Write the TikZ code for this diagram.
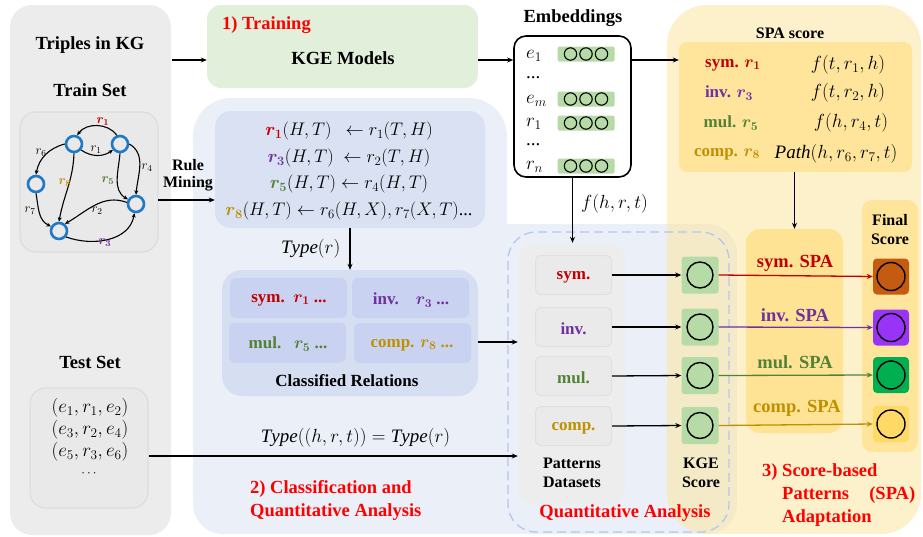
\documentclass[tikz,border=0pt]{standalone}
\usepackage{fix-cm}
\usepackage{amsmath}
\usepackage{bm}
\usepackage{fontspec}
\setmainfont{Liberation Serif}
\usetikzlibrary{arrows.meta}
\definecolor{symc}{HTML}{C00000}
\definecolor{invc}{HTML}{7030A0}
\definecolor{mulc}{HTML}{548235}
\definecolor{compc}{HTML}{BF9000}
\definecolor{redt}{HTML}{FF0000}
\definecolor{graybg}{HTML}{ECECEC}
\definecolor{gboxc}{HTML}{E9E9E9}
\definecolor{gboxd}{HTML}{DDDDDD}
\definecolor{bluebg}{HTML}{EAEFF8}
\definecolor{rulec}{HTML}{D9E1F2}
\definecolor{classc}{HTML}{D6DEF1}
\definecolor{cellc}{HTML}{C9D3F1}
\definecolor{greenbg}{HTML}{E2EFDA}
\definecolor{yelbg}{RGB}{252,232,168}
\definecolor{spac}{HTML}{FFE59C}
\definecolor{spacol}{HTML}{FFE394}
\definecolor{pboxc}{HTML}{EAEAEA}
\definecolor{pboxd}{HTML}{E0E0E0}
\definecolor{pdc}{HTML}{EDEDED}
\definecolor{kgeg}{HTML}{B6DBA6}
\definecolor{dashc}{HTML}{B4C7EE}
\definecolor{kgblue}{HTML}{1F78C8}
\definecolor{fbrown}{HTML}{C55A11}
\definecolor{fpurple}{HTML}{9933F5}
\definecolor{fgreen}{HTML}{00B050}
\definecolor{fyellow}{HTML}{FFD966}
\begin{document}
\begin{tikzpicture}[x=1pt,y=1pt,
  ttl/.style={font=\fontsize{18.5}{20}\selectfont\bfseries, inner sep=0},
  midt/.style={font=\fontsize{17}{19}\selectfont\bfseries, inner sep=0},
  smt/.style={font=\fontsize{16}{18}\selectfont\bfseries, inner sep=0},
  mth/.style={font=\fontsize{19}{22}\selectfont, inner sep=0},
  rth/.style={font=\fontsize{18.2}{21}\selectfont, inner sep=0},
  glab/.style={font=\fontsize{13}{14}\selectfont, inner sep=0},
  arr/.style={-{Stealth[length=6pt,width=5pt]}, line width=1.3pt},
  garr/.style={-{Stealth[length=4.5pt,width=4pt]}, line width=1.1pt},
  gnode/.style={circle, draw=kgblue, line width=2.6pt, minimum size=16pt, inner sep=0},
  embar/.style={fill=kgeg, rounded corners=1.5pt, minimum width=57pt, minimum height=15pt, inner sep=0},
  pbox/.style={fill=pboxc, draw=pboxd, line width=1pt, rounded corners=5pt, minimum width=76pt, minimum height=39pt, inner sep=0},
  kbox/.style={fill=kgeg, rounded corners=3pt, minimum size=37pt, inner sep=0},
  fbox/.style={rounded corners=4pt, minimum size=36pt, inner sep=0},
  cell/.style={fill=cellc, rounded corners=6pt, minimum width=117pt, minimum height=40pt, inner sep=0},
  plain/.style={inner sep=0}
]
\useasboundingbox (0,0) rectangle (923,-536);
% ---------- backgrounds
\fill[graybg, rounded corners=22pt] (10,-5) rectangle (171,-535);
\fill[bluebg, rounded corners=38pt] (193,-98) rectangle (507,-300);
\fill[bluebg, rounded corners=30pt] (193,-224) rectangle (737,-534);
\fill[yelbg, fill opacity=0.6, rounded corners=40pt] (667,-5) rectangle (921,-534);

% ---------- left panel
\node[ttl] (triples) at (90,-45) {Triples in KG};
\node[ttl] (train) at (90,-90) {Train Set};
\node[fill=gboxc, draw=gboxd, line width=1.2pt, rounded corners=16pt, minimum width=138pt, minimum height=140pt, inner sep=0] (gbox) at (89,-182) {};
\node[gnode] (A) at (74,-144) {};
\node[gnode] (B) at (120,-144) {};
\node[gnode] (C) at (36,-184) {};
\node[gnode] (D) at (136,-204) {};
\node[gnode] (E) at (59,-231) {};
\draw[garr] (B.110) to[out=125,in=55] (A.70);
\draw[garr] (A.-40) to[out=-35,in=-145] (B.-140);
\draw[garr] (A.west) to[out=195,in=80] (C.north);
\draw[garr] (C.south) to[out=-80,in=155] (E.150);
\draw[garr] (A.south) to[out=-92,in=80] (E.north);
\draw[garr] (B.east) to[out=-30,in=85] (D.north);
\draw[garr] (B.south) to[out=-95,in=150] (D.150);
\draw[garr] (D.170) to[out=160,in=30] (E.50);
\draw[garr] (E.-40) to[out=-20,in=-100] (D.-100);
\node[glab, text=symc] (l1) at (103,-122) {$\bm{r_1}$};
\node[glab] (l1b) at (96,-150) {$r_1$};
\node[glab] (l6) at (41,-153) {$r_6$};
\node[glab] (l7) at (30,-211) {$r_7$};
\node[glab, text=compc] (l8) at (65,-183) {$\bm{r_8}$};
\node[glab, text=mulc] (l5) at (108,-181) {$\bm{r_5}$};
\node[glab] (l4) at (147,-168) {$r_4$};
\node[glab] (l2) at (97,-211) {$r_2$};
\node[glab, text=invc] (l3) at (105,-243) {$\bm{r_3}$};

\node[ttl] (test) at (90,-362) {Test Set};
\node[fill=gboxc, draw=gboxd, line width=1.2pt, rounded corners=16pt, minimum width=118pt, minimum height=120pt, inner sep=0] (tbox) at (89,-448) {};
\node[mth] (t1) at (90,-408) {$(e_1,r_1,e_2)$};
\node[mth] (t2) at (90,-430) {$(e_3,r_2,e_4)$};
\node[mth] (t3) at (90,-452) {$(e_5,r_3,e_6)$};
\node[glab] (t4) at (90,-474) {$\cdots$};

% ---------- training
\node[fill=greenbg, rounded corners=14pt, minimum width=271pt, minimum height=83pt, inner sep=0] (trainbox) at (342.5,-46.5) {};
\node[ttl, text=redt, anchor=west] (s1) at (222,-25) {1) Training};
\node[ttl] (kge) at (343,-58) {KGE Models};
\coordinate (ta) at (172,-60);
\draw[arr] (ta) -- (ta -| trainbox.west);

% ---------- embeddings
\node[ttl] (embt) at (573,-18) {Embeddings};
\node[draw, line width=1.6pt, rounded corners=12pt, fill=white, minimum width=117pt, minimum height=141pt, inner sep=0] (emb) at (572.5,-106.5) {};
\node[mth, anchor=west] (le1) at (526,-56) {$e_1$};
\node[mth, anchor=west] (ld1) at (526,-78) {...};
\node[mth, anchor=west] (lem) at (526,-101) {$e_m$};
\node[mth, anchor=west] (lr1) at (526,-124) {$r_1$};
\node[mth, anchor=west] (ld2) at (526,-145) {...};
\node[mth, anchor=west] (lrn) at (526,-167) {$r_n$};
\node[embar] (be1) at (586,-54) {};
\node[embar] (bem) at (586,-99) {};
\node[embar] (br1) at (586,-123) {};
\node[embar] (brn) at (586,-166) {};
\foreach \b in {be1,bem,br1,brn}{
  \foreach \dx in {-15.5,0,15.5}{
    \draw[line width=1.1pt] (\b.center) ++(\dx,0) circle (6.2);
  }
}
\coordinate (ka) at (479,-60);
\draw[arr] (trainbox.east |- ka) -- (ka -| emb.west);

% ---------- rules
\node[fill=rulec, rounded corners=16pt, minimum width=270pt, minimum height=117pt, inner sep=0] (rules) at (350,-169.5) {};
\node[rth] (rl1) at (349,-131) {${\color{symc}\bm{r_1}}(H,T)\ \ \leftarrow r_1(T,H)$};
\node[rth] (rl2) at (349,-158) {${\color{invc}\bm{r_3}}(H,T)\ \leftarrow r_2(T,H)$};
\node[rth] (rl3) at (349,-184) {${\color{mulc}\bm{r_5}}(H,T) \leftarrow r_4(H,T)$};
\node[rth] (rl4) at (349,-211) {${\color{compc}\bm{r_8}}(H,T) \leftarrow r_6(H,X),r_7(X,T)$...};
\node[smt, align=center] (rm) at (188,-175) {Rule\\[-1pt]Mining};
\coordinate (rma) at (158,-200);
\draw[arr] (rma) -- (rma -| rules.west);

% ---------- classified relations
\node[fill=classc, rounded corners=20pt, minimum width=256pt, minimum height=126pt, inner sep=0] (cls) at (350,-333) {};
\node[cell] (csym) at (288.5,-298) {};
\node[cell] (cinv) at (410.5,-298) {};
\node[cell] (cmul) at (287.5,-342.5) {};
\node[cell] (ccomp) at (412.5,-343) {};
\node[midt, text=symc] (tsym) at (289,-300) {sym.\ \ $\bm{r_1}$ ...};
\node[midt, text=invc] (tinv) at (411,-300) {inv.\quad $\bm{r_3}$ ...};
\node[midt, text=mulc] (tmul) at (288,-344) {mul.\ \ \ $\bm{r_5}$ ...};
\node[midt, text=compc] (tcomp) at (412,-345) {comp. $\bm{r_8}$ ...};
\node[midt] (clst) at (347,-381) {Classified Relations};
\draw[arr] (rules.south) -- node[mth, left=9pt] (typer) {$\mathit{Type}(r)$} (cls.north);

% ---------- section 2 text
\node[ttl, text=redt, anchor=west] (s2a) at (250,-489) {2) Classification and};
\node[ttl, text=redt, anchor=west] (s2b) at (250,-512) {Quantitative Analysis};

% ---------- yellow part
\node[smt] (spat) at (790,-33) {SPA score};
\node[fill=spac, rounded corners=8pt, minimum width=233pt, minimum height=130pt, inner sep=0] (spa) at (795.5,-107) {};
\node[midt, text=symc] (ss1) at (733,-65) {sym. $\bm{r_1}$};
\node[midt, text=invc] (ss2) at (729,-93) {inv. $\bm{r_3}$};
\node[midt, text=mulc] (ss3) at (731,-123) {mul. $\bm{r_5}$};
\node[midt, text=compc] (ss4) at (727,-154) {comp. $\bm{r_8}$};
\node[mth] (sf1) at (848,-65) {$f(t,r_1,h)$};
\node[mth] (sf2) at (848,-93) {$f(t,r_2,h)$};
\node[mth] (sf3) at (851,-123) {$f(h,r_4,t)$};
\node[mth] (sf4) at (836,-154) {$\mathit{Path}(h,r_6,r_7,t)$};
\coordinate (ea) at (632,-60);
\draw[arr] (emb.east |- ea) -- (ea -| spa.west);

\node[fill=spacol, rounded corners=14pt, minimum width=97pt, minimum height=204pt, inner sep=0] (spacolumn) at (794.5,-331) {};
\draw[arr] (spacolumn.north |- spa.south) -- (spacolumn.north);
\node[fill=spac, rounded corners=10pt, minimum width=56pt, minimum height=252pt, inner sep=0] (fcol) at (890,-326) {};
\node[smt, align=center] (fst) at (890,-230) {Final\\[1pt]Score};

% ---------- quantitative analysis
\node[draw=dashc, line width=1.3pt, dash pattern=on 9pt off 5pt, rounded corners=28pt, minimum width=221pt, minimum height=300pt, inner sep=0] (qa) at (618.5,-382) {};
\node[fill=pdc, rounded corners=18pt, minimum width=107pt, minimum height=262pt, inner sep=0] (pd) at (571.5,-374) {};
\node[pbox] (psym) at (573.5,-275) {};
\node[pbox] (pinv) at (573.5,-327) {};
\node[pbox] (pmul) at (573.5,-376) {};
\node[pbox] (pcomp) at (573.5,-426) {};
\node[midt, text=symc] (psymt) at (573.5,-277) {sym.};
\node[midt, text=invc] (pinvt) at (573.5,-329) {inv.};
\node[midt, text=mulc] (pmult) at (573.5,-378) {mul.};
\node[midt, text=compc] (pcompt) at (573.5,-428) {comp.};
\node[smt, align=center] (pdt) at (572,-473) {Patterns\\[1pt]Datasets};
\node[smt, align=center] (kst) at (701,-473) {KGE\\[1pt]Score};
\node[ttl, text=redt] (qat) at (625,-513) {Quantitative Analysis};

\draw[arr] (emb.south) -- (emb.south |- pd.north) node[mth, pos=0.4, right=8pt] (fhrt) {$f(h,r,t)$};
\coordinate (ca) at (478,-342);
\draw[arr] (cls.east |- ca) -- (ca -| pd.west);
\coordinate (tsa) at (149,-456);
\draw[arr] (tsa) -- (tsa -| pd.west) node[mth, pos=0.56, above=8pt] (typet) {$\mathit{Type}((h,r,t)) = \mathit{Type}(r)$};

\node[kbox] (ksym) at (700,-275) {};
\node[kbox] (kinv) at (700,-327) {};
\node[kbox] (kmul) at (700,-375.5) {};
\node[kbox] (kcomp) at (700,-425.5) {};
\node[fbox, fill=fbrown] (fsym) at (891,-276.5) {};
\node[fbox, fill=fpurple] (finv) at (891,-327.5) {};
\node[fbox, fill=fgreen] (fmul) at (891,-375) {};
\node[fbox, fill=fyellow] (fcomp) at (891,-424) {};
\foreach \k in {ksym,kinv,kmul,kcomp}{
  \draw[line width=1.4pt] (\k.center) circle (13);
}
\foreach \k in {fsym,finv,fmul,fcomp}{
  \draw[line width=1.4pt] (\k.center) circle (14);
}
\foreach \p/\k in {psym/ksym,pinv/kinv,pmul/kmul,pcomp/kcomp}{
  \draw[arr] (\p.east) -- (\k.west);
}
\draw[arr, symc] (ksym.east) -- (fsym.west);
\draw[arr, invc] (kinv.east) -- (finv.west);
\draw[arr, mulc] (kmul.east) -- (fmul.west);
\draw[arr, compc] (kcomp.east) -- (fcomp.west);
\node[ttl, text=symc] (sspa) at (795,-263) {sym. SPA};
\node[ttl, text=invc] (ispa) at (795,-315) {inv. SPA};
\node[ttl, text=mulc] (mspa) at (795,-362) {mul. SPA};
\node[ttl, text=compc] (cspa) at (797,-408) {comp. SPA};

\node[ttl, text=redt, anchor=west] (s3a) at (762,-472) {3) Score-based};
\node[ttl, text=redt, anchor=west] (s3b) at (782,-495) {\makebox[133pt][l]{Patterns\hfill(SPA)}};
\node[ttl, text=redt, anchor=west] (s3c) at (782,-518) {Adaptation};
\end{tikzpicture}
\end{document}
